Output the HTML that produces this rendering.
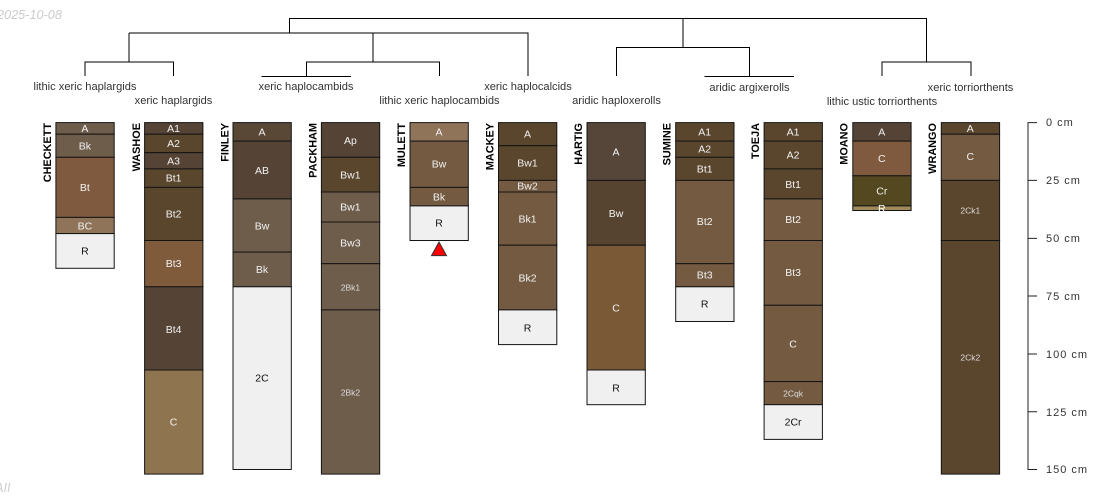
<!DOCTYPE html>
<html><head><meta charset="utf-8"><style>
html,body{margin:0;padding:0;background:#fff}
svg{display:block}
text{font-family:"Liberation Sans",Arial,sans-serif}
.d path{fill:none;stroke:#000;stroke-width:1}
.l{font-size:11.1px;fill:#333;text-anchor:middle}
.n{font-size:10.9px;font-weight:bold;fill:#000;text-anchor:end}
.h rect{stroke:#141414;stroke-width:1}
.h text{font-size:10.5px;fill:#f2f2f2;text-anchor:middle}
.h text.k{fill:#111}
.h text.s{font-size:8.5px;fill:#ddd}
.h text.x{fill:#fff}
.a{font-size:11px;fill:#333;letter-spacing:1px}
.w{font-size:12.7px;font-style:italic;fill:#ccc}
</style></head><body>
<svg width="1100" height="500" viewBox="0 0 1100 500" xmlns="http://www.w3.org/2000/svg">
<rect width="1100" height="500" fill="#fff"/>
<text class="w" x="-3" y="19">2025-10-08</text>
<text class="w" x="-5" y="492">AII</text>

<g class="d">
<path d="M289.5 33V18.5H926.5V62"/>
<path d="M129 33H450"/>
<path d="M373 33H528V76"/>
<path d="M129 33V62"/>
<path d="M85 76V62H173.5V76"/>
<path d="M373 33V62"/>
<path d="M306.5 76V62H439.5V76"/>
<path d="M261.5 76.5H351"/>
<path d="M683 18.5V47"/>
<path d="M616.5 76V47.5H749.5V76"/>
<path d="M704.5 76.5H794"/>
<path d="M882 76V62H971V76"/>
</g>

<text class="l" x="85" y="90">lithic xeric haplargids</text>
<text class="l" x="173.5" y="104">xeric haplargids</text>
<text class="l" x="306" y="90">xeric haplocambids</text>
<text class="l" x="439.5" y="104">lithic xeric haplocambids</text>
<text class="l" x="528" y="90">xeric haplocalcids</text>
<text class="l" x="616.5" y="104">aridic haploxerolls</text>
<text class="l" x="749.5" y="91">aridic argixerolls</text>
<text class="l" x="882" y="105">lithic ustic torriorthents</text>
<text class="l" x="970.5" y="91">xeric torriorthents</text>

<text class="n" transform="translate(50.9,123) rotate(-90)">CHECKETT</text>
<text class="n" transform="translate(139.9,123) rotate(-90)">WASHOE</text>
<text class="n" transform="translate(228.3,123) rotate(-90)">FINLEY</text>
<text class="n" transform="translate(316.7,123) rotate(-90)">PACKHAM</text>
<text class="n" transform="translate(405.2,123) rotate(-90)">MULETT</text>
<text class="n" transform="translate(493.6,123) rotate(-90)">MACKEY</text>
<text class="n" transform="translate(582.1,123) rotate(-90)">HARTIG</text>
<text class="n" transform="translate(670.6,123) rotate(-90)">SUMINE</text>
<text class="n" transform="translate(759,123) rotate(-90)">TOEJA</text>
<text class="n" transform="translate(847.4,123) rotate(-90)">MOANO</text>
<text class="n" transform="translate(935.9,123) rotate(-90)">WRANGO</text>

<g class="h" transform="translate(55.9,0)">
<rect y="122.6" width="58.3" height="11.6" fill="#6f5d4c"/><text x="29" y="132">A</text>
<rect y="134.2" width="58.3" height="23.1" fill="#6f5d4c"/><text x="29" y="149.5">Bk</text>
<rect y="157.3" width="58.3" height="60.1" fill="#7f5a3f"/><text x="29" y="191">Bt</text>
<rect y="217.4" width="58.3" height="16.2" fill="#8f7459"/><text x="29" y="229.5">BC</text>
<rect y="233.6" width="58.3" height="34.7" fill="#f0f0f0"/><text class="k" x="29" y="254.5">R</text>
</g>

<g class="h" transform="translate(144.6,0)">
<rect y="122.6" width="58.3" height="11.6" fill="#554436"/><text x="29" y="132">A1</text>
<rect y="134.2" width="58.3" height="18.5" fill="#5a452d"/><text x="29" y="147">A2</text>
<rect y="152.7" width="58.3" height="16.2" fill="#554436"/><text x="29" y="164.5">A3</text>
<rect y="168.9" width="58.3" height="18.5" fill="#5a452d"/><text x="29" y="181.5">Bt1</text>
<rect y="187.4" width="58.3" height="53.1" fill="#5a452d"/><text x="29" y="217.5">Bt2</text>
<rect y="240.5" width="58.3" height="46.3" fill="#7f5a3b"/><text x="29" y="267">Bt3</text>
<rect y="286.8" width="58.3" height="83.2" fill="#554436"/><text x="29" y="333">Bt4</text>
<rect y="370" width="58.3" height="104.1" fill="#8f7450"/><text x="29" y="425.5">C</text>
</g>

<g class="h" transform="translate(233,0)">
<rect y="122.6" width="58.3" height="18.5" fill="#5a4836"/><text x="29" y="135.5">A</text>
<rect y="141.1" width="58.3" height="57.8" fill="#554436"/><text x="29" y="174">AB</text>
<rect y="198.9" width="58.3" height="53.2" fill="#6f5d4c"/><text x="29" y="229.5">Bw</text>
<rect y="252.1" width="58.3" height="34.7" fill="#6f5d4c"/><text x="29" y="273">Bk</text>
<rect y="286.8" width="58.3" height="182.7" fill="#f0f0f0"/><text class="k" x="29" y="381.5">2C</text>
</g>

<g class="h" transform="translate(321.4,0)">
<rect y="122.6" width="58.3" height="34.7" fill="#554436"/><text x="29" y="144">Ap</text>
<rect y="157.3" width="58.3" height="34.7" fill="#5a452d"/><text x="29" y="178.5">Bw1</text>
<rect y="192" width="58.3" height="30" fill="#6f5d4c"/><text x="29" y="210.5">Bw1</text>
<rect y="222" width="58.3" height="41.7" fill="#6f5d4c"/><text x="29" y="246.5">Bw3</text>
<rect y="263.7" width="58.3" height="46.2" fill="#6f5d4c"/><text class="s" x="29" y="290.5">2Bk1</text>
<rect y="309.9" width="58.3" height="164.2" fill="#6f5d4c"/><text class="s" x="29" y="395.5">2Bk2</text>
</g>

<g class="h" transform="translate(410,0)">
<rect y="122.6" width="58.3" height="18.5" fill="#8f7459"/><text x="29" y="135.5">A</text>
<rect y="141.1" width="58.3" height="46.3" fill="#735a41"/><text x="29" y="167.5">Bw</text>
<rect y="187.4" width="58.3" height="18.5" fill="#735a41"/><text x="29" y="200.5">Bk</text>
<rect y="205.9" width="58.3" height="34.6" fill="#f0f0f0"/><text class="k" x="29" y="226.5">R</text>
</g>
<path d="M439 242L446.5 255.6H431.5Z" fill="#f00" stroke="#333" stroke-width="1"/>

<g class="h" transform="translate(498.5,0)">
<rect y="122.6" width="58.3" height="23.1" fill="#5a452d"/><text x="29" y="137.5">A</text>
<rect y="145.7" width="58.3" height="34.7" fill="#5a452d"/><text x="29" y="166.5">Bw1</text>
<rect y="180.4" width="58.3" height="11.6" fill="#735a41"/><text x="29" y="189.5">Bw2</text>
<rect y="192" width="58.3" height="53.2" fill="#735a41"/><text x="29" y="222.5">Bk1</text>
<rect y="245.2" width="58.3" height="64.7" fill="#735a41"/><text x="29" y="281.5">Bk2</text>
<rect y="309.9" width="58.3" height="34.7" fill="#f0f0f0"/><text class="k" x="29" y="331.5">R</text>
</g>

<g class="h" transform="translate(587,0)">
<rect y="122.6" width="58.3" height="57.8" fill="#554639"/><text x="29" y="155.5">A</text>
<rect y="180.4" width="58.3" height="64.8" fill="#574430"/><text x="29" y="217">Bw</text>
<rect y="245.2" width="58.3" height="124.8" fill="#7a5a36"/><text x="29" y="311.5">C</text>
<rect y="370" width="58.3" height="34.7" fill="#f0f0f0"/><text class="k" x="29" y="391.5">R</text>
</g>

<g class="h" transform="translate(675.7,0)">
<rect y="122.6" width="58.3" height="18.5" fill="#5a452d"/><text x="29" y="135.5">A1</text>
<rect y="141.1" width="58.3" height="16.2" fill="#5a452d"/><text x="29" y="152.5">A2</text>
<rect y="157.3" width="58.3" height="23.1" fill="#5a452d"/><text x="29" y="172.5">Bt1</text>
<rect y="180.4" width="58.3" height="83.3" fill="#735a41"/><text x="29" y="225">Bt2</text>
<rect y="263.7" width="58.3" height="23.1" fill="#735a41"/><text x="29" y="278.5">Bt3</text>
<rect y="286.8" width="58.3" height="34.7" fill="#f0f0f0"/><text class="k" x="29" y="307.5">R</text>
</g>

<g class="h" transform="translate(764.1,0)">
<rect y="122.6" width="58.3" height="18.5" fill="#5a452d"/><text x="29" y="135.5">A1</text>
<rect y="141.1" width="58.3" height="27.8" fill="#5a452d"/><text x="29" y="158.5">A2</text>
<rect y="168.9" width="58.3" height="30" fill="#5a452d"/><text x="29" y="188">Bt1</text>
<rect y="198.9" width="58.3" height="41.6" fill="#735a41"/><text x="29" y="223">Bt2</text>
<rect y="240.5" width="58.3" height="64.8" fill="#735a41"/><text x="29" y="276">Bt3</text>
<rect y="305.3" width="58.3" height="76.3" fill="#735a41"/><text x="29" y="347.5">C</text>
<rect y="381.6" width="58.3" height="23.1" fill="#735a41"/><text class="s" x="29" y="396.5">2Cqk</text>
<rect y="404.7" width="58.3" height="34.7" fill="#f0f0f0"/><text class="k" x="29" y="425.5">2Cr</text>
</g>

<g class="h" transform="translate(852.8,0)">
<rect y="122.6" width="58.3" height="18.5" fill="#554436"/><text x="29" y="135.5">A</text>
<rect y="141.1" width="58.3" height="34.7" fill="#7f5a3f"/><text x="29" y="162">C</text>
<rect y="175.8" width="58.3" height="30.1" fill="#544820"/><text x="29" y="194.5">Cr</text>
<rect y="205.9" width="58.3" height="4.6" fill="#a08a5a"/><text class="x" x="29" y="212">R</text>
</g>

<g class="h" transform="translate(941.3,0)">
<rect y="122.6" width="58.3" height="11.6" fill="#5a452d"/><text x="29" y="132">A</text>
<rect y="134.2" width="58.3" height="46.2" fill="#735a41"/><text x="29" y="160">C</text>
<rect y="180.4" width="58.3" height="60.1" fill="#5a452d"/><text class="s" x="29" y="213.5">2Ck1</text>
<rect y="240.5" width="58.3" height="233.6" fill="#5a452d"/><text class="s" x="29" y="360.5">2Ck2</text>
</g>

<path d="M1037 122.6H1028V469.5H1037M1028 180.4H1037M1028 238.4H1037M1028 296H1037M1028 354H1037M1028 411.8H1037" fill="none" stroke="#222" stroke-width="1"/>
<text class="a" x="1046" y="126">0 cm</text>
<text class="a" x="1046" y="184">25 cm</text>
<text class="a" x="1046" y="242">50 cm</text>
<text class="a" x="1046" y="300">75 cm</text>
<text class="a" x="1046" y="358">100 cm</text>
<text class="a" x="1046" y="416">125 cm</text>
<text class="a" x="1046" y="473">150 cm</text>
</svg>
</body></html>
